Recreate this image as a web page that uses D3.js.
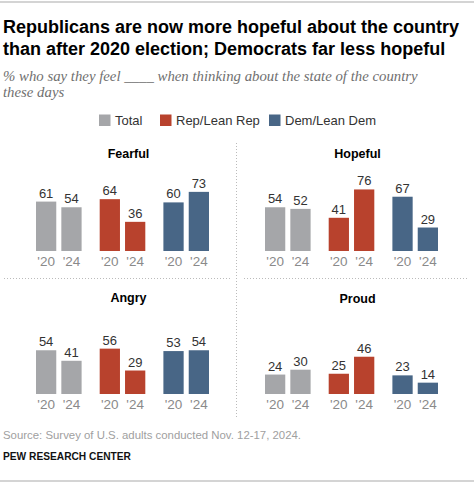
<!DOCTYPE html>
<html>
<head>
<meta charset="utf-8">
<script src="https://cdn.jsdelivr.net/npm/d3@7"></script>
<style>
  html, body { margin: 0; padding: 0; background: #fff; }
  svg { display: block; }
</style>
</head>
<body>
<div id="chart"></div>
<script>
const categories = ["Total", "Rep/Lean Rep", "Dem/Lean Dem"];
const years = ["'20", "'24"];
const panels = ["Fearful", "Hopeful", "Angry", "Proud"];
const totalValues = [[61, 54], [54, 52], [54, 41], [24, 30]];
const repValues = [[64, 36], [41, 76], [56, 29], [25, 46]];
const demValues = [[60, 73], [67, 29], [53, 54], [23, 14]];

const colors = ["#a5a6a9", "#b8422d", "#486686"];

const W = 474, H = 485;
const svg = d3.select("#chart").append("svg").attr("width", W).attr("height", H);

// rules
svg.append("line").attr("x1", 0).attr("x2", W).attr("y1", 2).attr("y2", 2).attr("stroke", "#aaa").attr("stroke-width", 1.2);
svg.append("line").attr("x1", 0).attr("x2", W).attr("y1", 481).attr("y2", 481).attr("stroke", "#aaa").attr("stroke-width", 1.2);

// title
const title = svg.append("text")
  .attr("font-family", "Liberation Sans, Arial, sans-serif").attr("font-weight", "bold")
  .attr("font-size", 18).attr("fill", "#000");
title.append("tspan").attr("x", 3).attr("y", 33).text("Republicans are now more hopeful about the country");
title.append("tspan").attr("x", 3).attr("y", 55).text("than after 2020 election; Democrats far less hopeful");

const sub = svg.append("text")
  .attr("font-family", "Liberation Serif, Times New Roman, serif").attr("font-style", "italic")
  .attr("font-size", 14.8).attr("fill", "#707070");
sub.append("tspan").attr("x", 3).attr("y", 81).text("% who say they feel ____ when thinking about the state of the country");
sub.append("tspan").attr("x", 3).attr("y", 97).text("these days");

// legend
const legendX = [99, 160, 269];
const lg = svg.append("g").attr("font-family", "Liberation Sans, Arial, sans-serif").attr("font-size", 13);
categories.forEach((c, i) => {
  lg.append("rect").attr("x", legendX[i]).attr("y", 114.5).attr("width", 11.5).attr("height", 11.5).attr("fill", colors[i]);
  lg.append("text").attr("x", legendX[i] + 16).attr("y", 125).attr("fill", "#333").text(c);
});

// dividers
function dline(x1, y1, x2, y2) {
  svg.append("line").attr("x1", x1).attr("y1", y1).attr("x2", x2).attr("y2", y2)
    .attr("stroke", "#bbb").attr("stroke-width", 1).attr("stroke-dasharray", "1,2");
}
dline(236.5, 143, 236.5, 417);
dline(4, 278.5, 230, 278.5);
dline(244, 278.5, 468, 278.5);

const panelLayout = [
  { x0: 36, x1: 209, base: 251, titleY: 158 },
  { x0: 265, x1: 438, base: 251, titleY: 158 },
  { x0: 36, x1: 209, base: 394, titleY: 302 },
  { x0: 265, x1: 438, base: 394, titleY: 303 }
];

const seriesValues = [totalValues, repValues, demValues];

panels.forEach((p, pi) => {
  const L = panelLayout[pi];
  const g = svg.append("g").attr("font-family", "Liberation Sans, Arial, sans-serif");
  const x = d3.scaleBand().domain(categories).range([L.x0, L.x1]).paddingInner(0.284);
  const xi = d3.scaleBand().domain(years).range([0, x.bandwidth()]).paddingInner(0.2);
  const y = d3.scaleLinear().domain([0, 100]).range([L.base, L.base - 81]);

  g.append("text").attr("x", (L.x0 + L.x1) / 2 + 6).attr("y", L.titleY)
    .attr("text-anchor", "middle").attr("font-weight", "bold").attr("font-size", 12.5).attr("fill", "#000").text(p);

  categories.forEach((c, ci) => {
    const vals = seriesValues[ci][pi];
    years.forEach((yr, yi) => {
      const v = vals[yi];
      const bx = x(c) + xi(yr);
      g.append("rect").attr("x", bx).attr("y", y(v)).attr("width", xi.bandwidth())
        .attr("height", y(0) - y(v)).attr("fill", colors[ci]);
      g.append("text").attr("x", bx + xi.bandwidth() / 2).attr("y", y(v) - 4)
        .attr("text-anchor", "middle").attr("font-size", 13).attr("fill", "#333").text(v);
      g.append("text").attr("x", bx + xi.bandwidth() / 2).attr("y", L.base + 15)
        .attr("text-anchor", "middle").attr("font-size", 13.5).attr("fill", "#8a8a8a").text(yr);
    });
  });
});

svg.append("text").attr("x", 3).attr("y", 439).attr("font-family", "Liberation Sans, Arial, sans-serif")
  .attr("font-size", 11.4).attr("fill", "#a0a0a0").text("Source: Survey of U.S. adults conducted Nov. 12-17, 2024.");
svg.append("text").attr("x", 3).attr("y", 460).attr("font-family", "Liberation Sans, Arial, sans-serif")
  .attr("font-size", 10.2).attr("font-weight", "bold").attr("fill", "#111").text("PEW RESEARCH CENTER");
</script>
</body>
</html>
